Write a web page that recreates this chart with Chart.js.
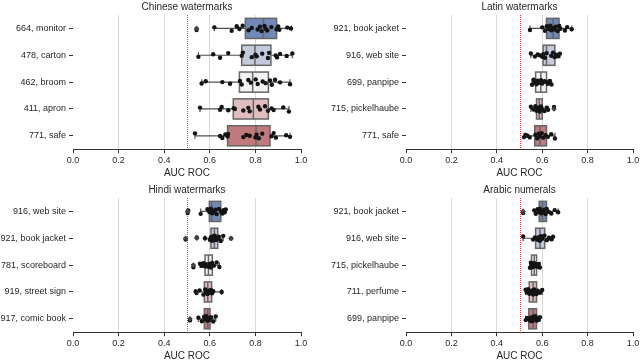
<!DOCTYPE html>
<html><head><meta charset="utf-8">
<script src="https://cdn.jsdelivr.net/npm/chart.js@4.4.0/dist/chart.umd.min.js"></script>
<style>
html,body{margin:0;padding:0;width:640px;height:362px;overflow:hidden;background:#fff;}
.p{position:absolute;height:181px;}
</style></head><body>
<div class="p" style="left:0;top:0;width:320px"><canvas id="c0"></canvas></div>
<div class="p" style="left:320px;top:0;width:334px"><canvas id="c1"></canvas></div>
<div class="p" style="left:0;top:183px;width:320px"><canvas id="c2"></canvas></div>
<div class="p" style="left:320px;top:183px;width:334px"><canvas id="c3"></canvas></div>
<script>
// ---------- data ----------
const xTickValues = [0, 0.2, 0.4, 0.6, 0.8, 1.0];
const chanceLevel = 0.5;
const boxColors = ['#7189b6', '#c2cadb', '#f3f3f3', '#e0bdbe', '#c07a7b'];
const jitter = [0.06,-0.04,0.09,-0.08,0.02,-0.1,0.07,-0.02,0.04,-0.06,0.1,-0.09,0.01,0.08,-0.05,0.03,-0.07,0.05,-0.03,0.0];

// stats: [whiskerLow, q1, median, q3, whiskerHigh]
const chineseCategories = ['664, monitor', '478, carton', '462, broom', '411, apron', '771, safe'];
const chineseStats = [
  [0.620, 0.756, 0.835, 0.893, 0.958],
  [0.550, 0.740, 0.798, 0.868, 0.962],
  [0.565, 0.730, 0.788, 0.857, 0.952],
  [0.557, 0.703, 0.791, 0.857, 0.947],
  [0.535, 0.678, 0.803, 0.864, 0.952]
];
const chineseFliers = [[0.542], [], [], [], []];
const chinesePoints = [
  [0.542,0.62,0.696,0.718,0.73,0.744,0.77,0.784,0.81,0.82,0.827,0.84,0.845,0.852,0.87,0.893,0.90,0.905,0.94,0.956],
  [0.55,0.615,0.645,0.681,0.74,0.745,0.784,0.80,0.806,0.83,0.855,0.86,0.889,0.895,0.908,0.937,0.962],
  [0.564,0.582,0.655,0.689,0.732,0.74,0.769,0.78,0.801,0.81,0.832,0.845,0.864,0.872,0.886,0.908,0.952],
  [0.557,0.645,0.652,0.681,0.705,0.71,0.747,0.769,0.775,0.813,0.82,0.842,0.855,0.871,0.88,0.922,0.947],
  [0.535,0.645,0.655,0.668,0.678,0.68,0.747,0.76,0.775,0.80,0.805,0.815,0.83,0.871,0.88,0.89,0.935,0.952]
];

const latinCategories = ['921, book jacket', '916, web site', '699, panpipe', '715, pickelhaube', '771, safe'];
const latinStats = [
  [0.546, 0.619, 0.648, 0.674, 0.730],
  [0.550, 0.604, 0.619, 0.656, 0.678],
  [0.555, 0.571, 0.594, 0.619, 0.641],
  [0.550, 0.575, 0.587, 0.600, 0.626],
  [0.520, 0.567, 0.590, 0.619, 0.656]
];
const latinFliers = [[], [], [], [0.652], []];
const latinPoints = [
  [0.546,0.60,0.612,0.62,0.628,0.635,0.64,0.648,0.655,0.66,0.668,0.675,0.68,0.70,0.71,0.73],
  [0.55,0.568,0.58,0.588,0.60,0.605,0.612,0.62,0.64,0.648,0.655,0.662,0.67,0.678],
  [0.555,0.562,0.568,0.575,0.58,0.588,0.595,0.60,0.61,0.618,0.625,0.632,0.641],
  [0.55,0.562,0.57,0.575,0.58,0.583,0.587,0.59,0.595,0.60,0.61,0.62,0.626,0.652],
  [0.52,0.527,0.535,0.545,0.57,0.578,0.585,0.59,0.598,0.605,0.615,0.625,0.64,0.656]
];

const hindiCategories = ['916, web site', '921, book jacket', '781, scoreboard', '919, street sign', '917, comic book'];
const hindiStats = [
  [0.560, 0.598, 0.608, 0.648, 0.670],
  [0.579, 0.605, 0.620, 0.635, 0.659],
  [0.557, 0.579, 0.594, 0.611, 0.642],
  [0.538, 0.576, 0.591, 0.608, 0.652],
  [0.550, 0.576, 0.591, 0.601, 0.626]
];
const hindiFliers = [[0.503], [0.494, 0.543, 0.693], [0.528], [], [0.513]];
const hindiPoints = [
  [0.503,0.505,0.56,0.59,0.598,0.605,0.61,0.615,0.62,0.625,0.63,0.64,0.65,0.655,0.66,0.665,0.67],
  [0.494,0.543,0.579,0.60,0.605,0.61,0.615,0.62,0.622,0.625,0.63,0.635,0.64,0.648,0.659,0.693],
  [0.528,0.557,0.565,0.572,0.58,0.585,0.59,0.595,0.60,0.605,0.61,0.618,0.63,0.642],
  [0.538,0.542,0.555,0.572,0.58,0.585,0.59,0.595,0.60,0.605,0.61,0.615,0.652],
  [0.513,0.55,0.565,0.575,0.58,0.585,0.59,0.595,0.60,0.605,0.615,0.626]
];

const arabicCategories = ['921, book jacket', '916, web site', '715, pickelhaube', '711, perfume', '699, panpipe'];
const arabicStats = [
  [0.565, 0.587, 0.601, 0.619, 0.670],
  [0.516, 0.571, 0.590, 0.611, 0.648],
  [0.546, 0.553, 0.565, 0.575, 0.590],
  [0.527, 0.543, 0.560, 0.575, 0.600],
  [0.527, 0.541, 0.560, 0.575, 0.590]
];
const arabicFliers = [[0.516], [], [], [], []];
const arabicPoints = [
  [0.516,0.565,0.572,0.58,0.585,0.59,0.595,0.60,0.605,0.61,0.615,0.62,0.628,0.64,0.655,0.67],
  [0.516,0.56,0.568,0.575,0.58,0.585,0.59,0.595,0.60,0.61,0.62,0.63,0.64,0.648],
  [0.546,0.55,0.553,0.556,0.56,0.563,0.565,0.568,0.572,0.575,0.58,0.585,0.59],
  [0.527,0.532,0.538,0.543,0.548,0.552,0.556,0.56,0.565,0.57,0.575,0.58,0.59,0.60],
  [0.527,0.533,0.54,0.545,0.55,0.555,0.56,0.565,0.57,0.575,0.58,0.585,0.59]
];

// ---------- drawing ----------
const TEXT = '#262626';
Chart.defaults.font.family = "'Liberation Sans', Arial, sans-serif";
Chart.defaults.color = TEXT;

const boxPlugin = {
  id: 'boxes',
  beforeDatasetsDraw(chart, args, opts) {
    const {ctx, chartArea, scales: {x, y}} = chart;
    ctx.save();
    const cx = Math.round(x.getPixelForValue(chanceLevel)) + 0.5;
    ctx.strokeStyle = 'rgba(235,45,45,0.95)';
    ctx.lineWidth = 1;
    ctx.setLineDash([1, 1]);
    ctx.beginPath(); ctx.moveTo(cx, chartArea.top); ctx.lineTo(cx, chartArea.bottom); ctx.stroke();
    ctx.setLineDash([]);
    opts.stats.forEach((s, i) => {
      const [lo, q1, med, q3, hi] = s;
      const yc = y.getPixelForValue(i);
      const yt = y.getPixelForValue(i - 0.375), yb = y.getPixelForValue(i + 0.375);
      const ct = y.getPixelForValue(i - 0.11), cb = y.getPixelForValue(i + 0.11);
      const pLo = x.getPixelForValue(lo), p1 = x.getPixelForValue(q1), pm = x.getPixelForValue(med),
            p3 = x.getPixelForValue(q3), pHi = x.getPixelForValue(hi);
      ctx.strokeStyle = '#505050';
      ctx.lineWidth = 1.2;
      ctx.beginPath();
      ctx.moveTo(pLo, yc); ctx.lineTo(p1, yc);
      ctx.moveTo(p3, yc); ctx.lineTo(pHi, yc);
      ctx.moveTo(pLo, ct); ctx.lineTo(pLo, cb);
      ctx.moveTo(pHi, ct); ctx.lineTo(pHi, cb);
      ctx.stroke();
      ctx.fillStyle = opts.colors[i];
      ctx.fillRect(p1, yt, p3 - p1, yb - yt);
      ctx.strokeStyle = '#666666';
      ctx.lineWidth = 1.5;
      ctx.strokeRect(p1, yt, p3 - p1, yb - yt);
      ctx.beginPath(); ctx.moveTo(pm, yt); ctx.lineTo(pm, yb); ctx.stroke();
    });
    ctx.restore();
  }
};

function makePanel(id, title, cats, stats, fliers, points, yWidth, padRight) {
  const flierData = [];
  fliers.forEach((arr, i) => arr.forEach(v => flierData.push({x: v, y: i})));
  const pointData = [];
  let k = 0;
  points.forEach((arr, i) => arr.forEach(v => { pointData.push({x: v, y: i + jitter[k % jitter.length]}); k++; }));
  new Chart(document.getElementById(id), {
    type: 'scatter',
    data: {datasets: [
      {data: flierData, pointStyle: 'rectRot', radius: 2.8, backgroundColor: '#444', borderColor: '#444', borderWidth: 0},
      {data: pointData, pointStyle: 'circle', radius: 2.2, backgroundColor: '#141414', borderWidth: 0}
    ]},
    options: {
      responsive: true, maintainAspectRatio: false, animation: false, devicePixelRatio: 1,
      events: [],
      layout: {padding: {left: 0, right: padRight, top: 0, bottom: 2}},
      plugins: {
        legend: {display: false}, tooltip: {enabled: false},
        title: {display: true, text: title, fullSize: false, color: TEXT, font: {size: 10, weight: 'normal'}, padding: {top: 1, bottom: 2}},
        boxes: {stats: stats, colors: boxColors}
      },
      scales: {
        x: {
          type: 'linear', min: 0, max: 1,
          afterBuildTicks: s => { s.ticks = xTickValues.map(v => ({value: v})); },
          ticks: {callback: v => Number(v).toFixed(1), font: {size: 9}, color: TEXT, padding: 1.5, maxRotation: 0, autoSkip: false},
          grid: {color: c => (c.tick && (c.tick.value === 0 || c.tick.value === 1)) ? 'rgba(0,0,0,0)' : '#dadada',
                 tickColor: '#333', tickLength: 4, lineWidth: 1},
          border: {display: true, color: '#333', width: 1},
          title: {display: true, text: 'AUC ROC', color: TEXT, font: {size: 10}, padding: {top: 0, bottom: 0}}
        },
        y: {
          type: 'linear', reverse: true, min: -0.5, max: 4.5,
          afterBuildTicks: s => { s.ticks = cats.map((_, i) => ({value: i})); },
          afterFit: s => { s.width = yWidth; },
          ticks: {callback: v => cats[v], font: {size: 9}, color: TEXT, padding: 3, autoSkip: false},
          grid: {drawOnChartArea: false, drawTicks: true, tickLength: 4, tickColor: '#333', tickWidth: 1},
          border: {display: false}
        }
      }
    },
    plugins: [boxPlugin]
  });
}

makePanel('c0', 'Chinese watermarks', chineseCategories, chineseStats, chineseFliers, chinesePoints, 73, 19);
makePanel('c1', 'Latin watermarks', latinCategories, latinStats, latinFliers, latinPoints, 86, 21);
makePanel('c2', 'Hindi watermarks', hindiCategories, hindiStats, hindiFliers, hindiPoints, 73, 19);
makePanel('c3', 'Arabic numerals', arabicCategories, arabicStats, arabicFliers, arabicPoints, 86, 21);
</script>
</body></html>
